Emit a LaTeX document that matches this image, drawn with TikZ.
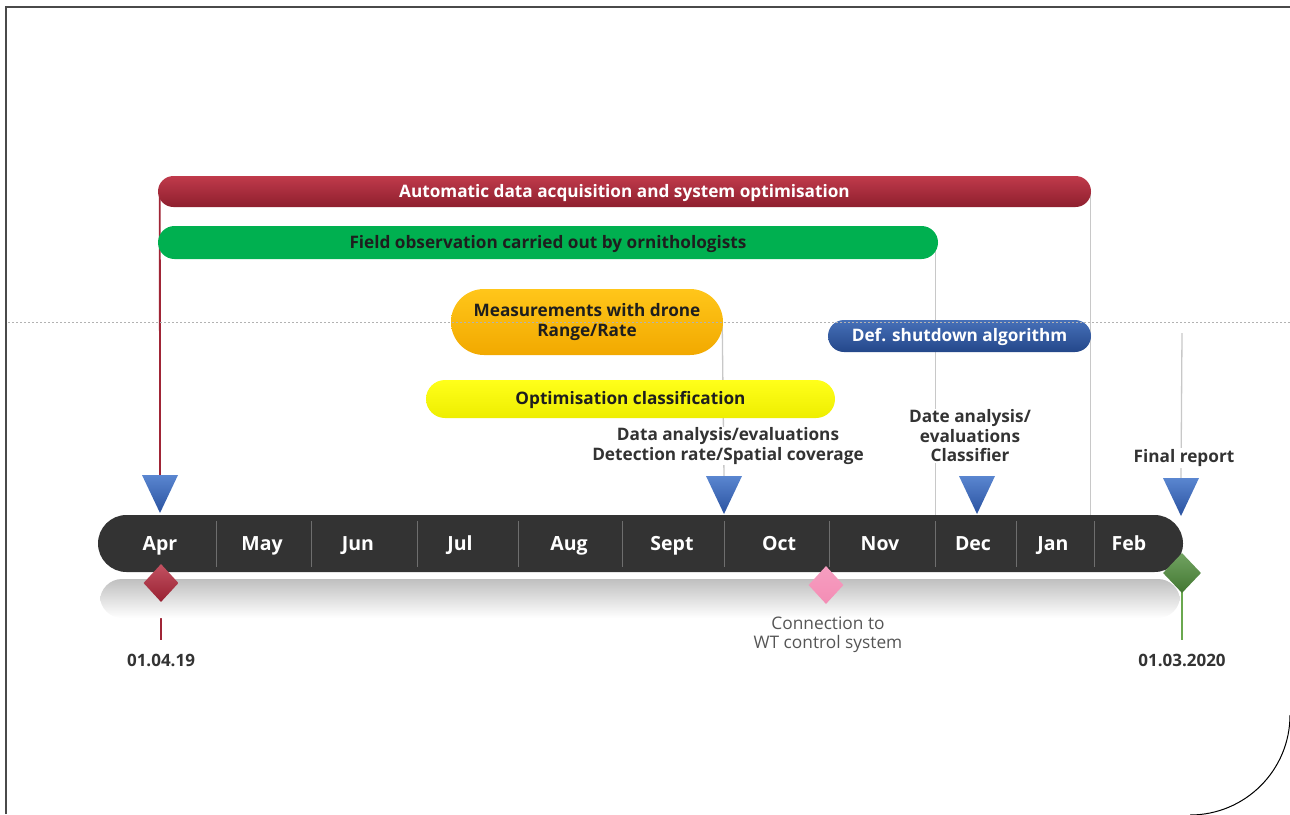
\documentclass[tikz,border=0pt]{standalone}
\usepackage{fontspec}
\setmainfont{Open Sans}
\usetikzlibrary{shapes.geometric,backgrounds}
\definecolor{redtop}{HTML}{C03A4B}
\definecolor{redbot}{HTML}{8E1F2E}
\definecolor{redline}{HTML}{A02536}
\definecolor{greenbar}{HTML}{00B050}
\definecolor{orangetop}{HTML}{FFC61A}
\definecolor{orangebot}{HTML}{F2A900}
\definecolor{yellowtop}{HTML}{FFFF1A}
\definecolor{yellowbot}{HTML}{EEEE00}
\definecolor{bluetop}{HTML}{4670B8}
\definecolor{bluebot}{HTML}{24478A}
\definecolor{tribtop}{HTML}{5A86D0}
\definecolor{tribbot}{HTML}{2A52A0}
\definecolor{darkbar}{HTML}{333333}
\definecolor{sepcol}{HTML}{6E6E6E}
\definecolor{txtdark}{HTML}{1E1E1E}
\definecolor{lblcol}{HTML}{333333}
\definecolor{conncol}{HTML}{555555}
\definecolor{vlinecol}{HTML}{C8C8C8}
\definecolor{frame}{HTML}{4A4A4A}
\definecolor{dmred}{HTML}{B3263A}
\definecolor{dmpink}{HTML}{F48DB5}
\definecolor{dmgreen}{HTML}{4E8C3A}
\definecolor{greenline}{HTML}{6AA84F}
\tikzset{
  barbox/.style={rectangle, inner sep=0pt, font=\fontsize{17.2}{20}\selectfont\bfseries, align=center},
  oneline/.style={text height=12.5pt, text depth=1pt},
  month/.style={inner sep=0pt, text=white, font=\fontsize{19.5}{22}\selectfont\bfseries, text height=14pt, text depth=1pt},
  lbl/.style={inner sep=1pt, text=lblcol, align=center, font=\fontsize{17.2}{19.5}\selectfont\bfseries},
  datelbl/.style={inner sep=1pt, text=lblcol, font=\fontsize{17}{19}\selectfont\bfseries},
  vline/.style={draw=vlinecol, line width=1.3pt},
  sepline/.style={draw=sepcol, line width=1pt},
  tri/.style={top color=tribtop, bottom color=tribbot},
  dmd/.style={diamond, inner sep=0pt, minimum width=35, minimum height=38},
}
\begin{document}
\begin{tikzpicture}[x=1pt,y=-1pt]
\useasboundingbox (0,0) rectangle (1290,814);
% frame
\draw[frame, line width=2pt] (6,814) -- (6,7) -- (1291,7);
\draw[black, line width=1pt] (1290,715) arc[start angle=0, end angle=90, radius=100];

% bars
\node[barbox, oneline, top color=redtop, bottom color=redbot, text=white, minimum width=933, minimum height=31, rounded corners=15.5] (redbar) at (624.5,191.5) {Automatic data acquisition and system optimisation};
\node[barbox, oneline, fill=greenbar, text=txtdark, minimum width=780, minimum height=33, rounded corners=16.5] (grnbar) at (548,242.5) {Field observation carried out by ornithologists};
\node[barbox, top color=orangetop, bottom color=orangebot, text=txtdark, minimum width=272, minimum height=66, rounded corners=33] (drone) at (587,322) {Measurements with drone\\Range/Rate};
\node[barbox, oneline, top color=yellowtop, bottom color=yellowbot, text=txtdark, minimum width=409, minimum height=38, rounded corners=19] (optcls) at (630.5,399) {Optimisation classification};
\node[barbox, oneline, top color=bluetop, bottom color=bluebot, text=white, minimum width=263, minimum height=32, rounded corners=16] (shutdown) at (959.5,336) {Def. shutdown algorithm};

% shadow under timeline
\shade[top color=black!25, bottom color=white, rounded corners=22] (100,618) -- (100,579) -- (1180,579) -- (1180,618) -- cycle;

% timeline bar
\node[rectangle, fill=darkbar, minimum width=1085, minimum height=57, rounded corners=28.5, inner sep=0pt] (tl) at (640.5,543.5) {};
\foreach \x in {216,311,417,518,622,724,829,935,1016,1094}
  \draw[sepline] (\x,521) -- (\x,567);
\node[month] (mApr) at (160,544) {Apr};
\node[month] (mMay) at (262,544) {May};
\node[month] (mJun) at (358,544) {Jun};
\node[month] (mJul) at (460,544) {Jul};
\node[month] (mAug) at (569,544) {Aug};
\node[month] (mSep) at (672,544) {Sept};
\node[month] (mOct) at (779,544) {Oct};
\node[month] (mNov) at (880,544) {Nov};
\node[month] (mDec) at (973,544) {Dec};
\node[month] (mJan) at (1053,544) {Jan};
\node[month] (mFeb) at (1129,544) {Feb};

% triangles (apex coordinates)
\coordinate (tA) at (160,513);
\coordinate (tS) at (724,514);
\coordinate (tD) at (977,514);
\coordinate (tF) at (1181,516);
\foreach \c in {tA,tS,tD,tF}
  \shade[tri] (\c) -- ++(-18,-38) -- ++(36,0) -- cycle;
\coordinate (tAtop) at (160,476);
\coordinate (tStop) at (724,477);
\coordinate (tFtop) at (1181,478);

% diamonds
\node[dmd, top color=dmred!80!white, bottom color=dmred!85!black] (dStart) at (161,583) {};
\node[dmd, top color=dmpink!85!white, bottom color=dmpink] (dConn) at (826,585) {};
\node[dmd, minimum width=38, minimum height=40, top color=dmgreen!80!white, bottom color=dmgreen!85!black] (dEnd) at (1182,573) {};

% labels
\node[lbl, fill=white] (daSep) at (728,446) {Data analysis/evaluations\\Detection rate/Spatial coverage};
\node[lbl, fill=white] (daDec) at (970,436) {Date analysis/\\evaluations\\Classifier};
\node[lbl, fill=white] (final) at (1184,458) {Final report};
\node[datelbl] (dtStart) at (161,660) {01.04.19};
\node[datelbl] (dtEnd) at (1182,660) {01.03.2020};
\node[inner sep=1pt, text=conncol, align=center, font=\fontsize{17.3}{19.5}\selectfont] (conn) at (828,634.5) {Connection to\\WT control system};

\coordinate (startLow) at (161,640);
\coordinate (endLow) at (1182,640);
\coordinate (finalTop) at (1182,333);

% connectors
\begin{scope}[on background layer]
  \draw[draw=redline, line width=1.8pt] ([xshift=2]redbar.west) -- (tAtop);
  \draw[vline] ([xshift=-3]grnbar.east) -- ([xshift=-3]grnbar.east |- tl.north);
  \draw[vline] ([xshift=-1]redbar.east) -- ([xshift=-1]redbar.east |- tl.north);
  \draw[vline] ([xshift=-1]drone.east) -- (tStop);
  \draw[vline] (finalTop) -- (tFtop);
  \draw[draw=redline, line width=1.6pt] (dStart.center) -- (startLow);
  \draw[draw=greenline, line width=1.6pt] (dEnd.center) -- (endLow);
\end{scope}

% dotted guide line
\draw[draw=black!30, line width=1pt, dash pattern=on 2pt off 2pt] (8,322) -- (1290,322);
\end{tikzpicture}
\end{document}
